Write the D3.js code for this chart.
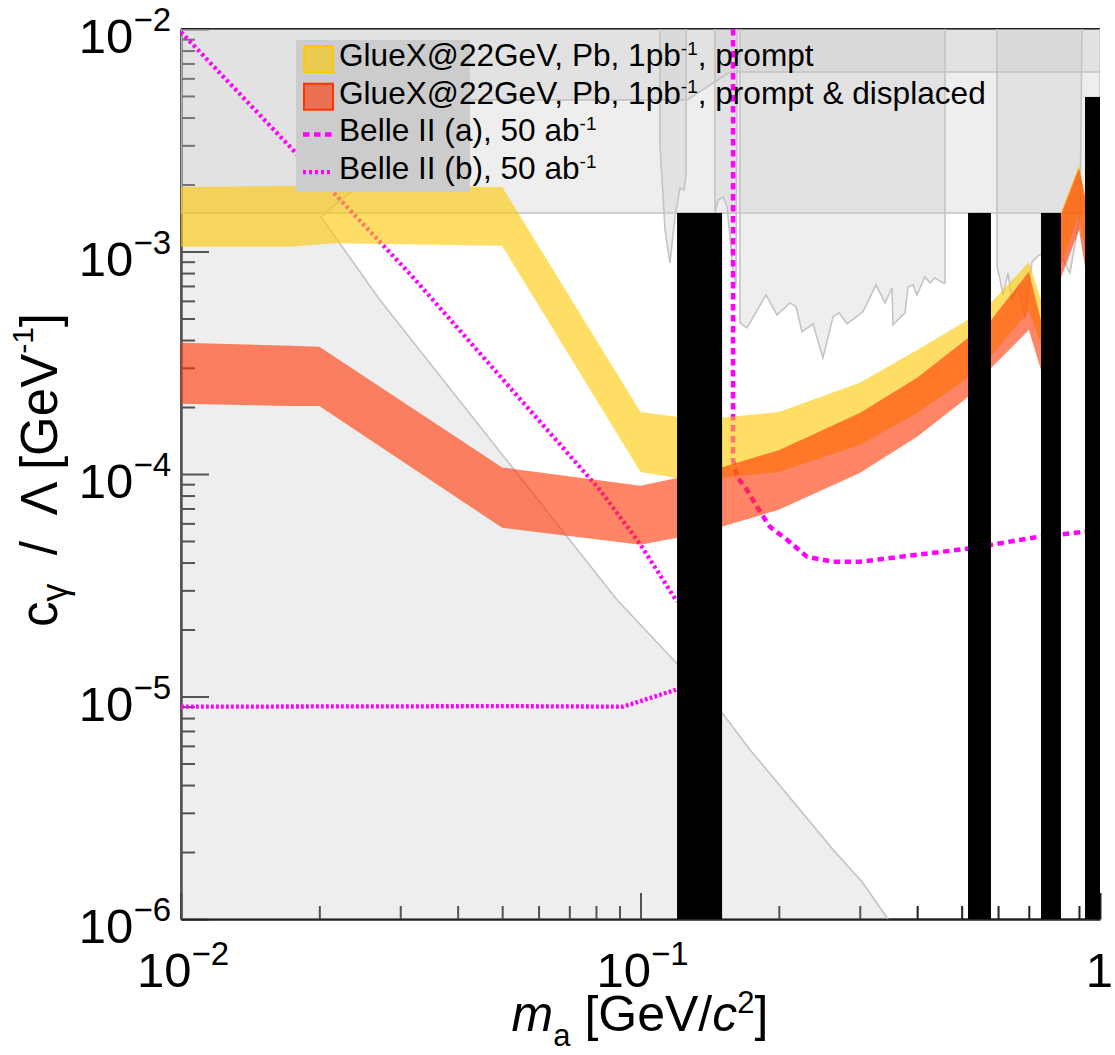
<!DOCTYPE html>
<html>
<head>
<meta charset="utf-8">
<script src="https://cdn.jsdelivr.net/npm/d3@7"></script>
<style>
  body { margin: 0; background: #fff; }
  svg { display: block; }
  text { font-family: "Liberation Sans", Arial, Helvetica, sans-serif; white-space: pre; fill: #000; }
</style>
</head>
<body>
<svg id="chart" width="1115" height="1055"></svg>
<script>
// ---------------- data ----------------
// GlueX@22GeV, Pb, 1 pb^-1 : prompt decays (band = [lo, hi] in c_gamma/Lambda, GeV^-1)
const promptMass = [0.01, 0.0173, 0.0215, 0.05, 0.1, 0.12, 0.15, 0.2, 0.3, 0.4, 0.516, 0.58, 0.70, 0.744, 0.822, 0.90, 0.928];
const promptHi   = [1.95e-3, 1.97e-3, 1.97e-3, 1.95e-3, 1.90e-4, 1.81e-4, 1.79e-4, 1.90e-4, 2.57e-4, 3.61e-4, 4.93e-4, 5.9e-4, 8.98e-4, 6.1e-4, 1.51e-3, 2.45e-3, 1.8e-3];
const promptLo   = [1.05e-3, 1.05e-3, 1.09e-3, 1.06e-3, 1.02e-4, 9.6e-5, 9.6e-5, 1.02e-4, 1.35e-4, 1.88e-4, 2.71e-4, 3.4e-4, 5.4e-4, 3.8e-4, 8.7e-4, 1.46e-3, 1.0e-3];

// GlueX@22GeV, Pb, 1 pb^-1 : prompt & displaced decays
const displacedMass = [0.01, 0.0173, 0.02, 0.05, 0.1, 0.12, 0.15, 0.2, 0.3, 0.4, 0.516, 0.58, 0.70, 0.744, 0.822, 0.90, 0.928];
const displacedHi   = [3.89e-4, 3.77e-4, 3.73e-4, 1.07e-4, 8.85e-5, 9.6e-5, 1.07e-4, 1.28e-4, 1.88e-4, 2.71e-4, 4.09e-4, 4.93e-4, 8.1e-4, 4.9e-4, 1.46e-3, 2.375e-3, 1.76e-3];
const displacedLo   = [2.07e-4, 2.02e-4, 2.02e-4, 5.73e-5, 4.81e-5, 5.17e-5, 5.79e-5, 6.91e-5, 1.01e-4, 1.47e-4, 2.22e-4, 3.0e-4, 4.44e-4, 2.94e-4, 7.61e-4, 1.25e-3, 8.53e-4];

// Belle II projections, 50 ab^-1
const belleAMass = [0.159, 0.159, 0.1622, 0.1705, 0.1793, 0.1913, 0.2084, 0.2303, 0.2624, 0.30, 0.40, 0.5137, 0.7148, 0.9277, 1.0];
const belleACoup = [1e-2, 1.158e-4, 9.71e-5, 8.49e-5, 7.12e-5, 5.79e-5, 5.06e-5, 4.25e-5, 4.03e-5, 4.03e-5, 4.34e-5, 4.61e-5, 5.17e-5, 5.50e-5, 5.61e-5];
const belleBUpperMass = [0.01, 0.01779, 0.02142, 0.03165, 0.0816, 0.1, 0.1201];
const belleBUpperCoup = [9.69e-3, 2.77e-3, 1.85e-3, 7.85e-4, 8.49e-5, 4.81e-5, 2.67e-5];
const belleBLowerMass = [0.01, 0.052, 0.0916, 0.1195];
const belleBLowerCoup = [9.0e-6, 9.05e-6, 9.0e-6, 1.073e-5];

// Existing exclusions: open edges [mass, coupling]; fills close along the frame
const topBandEdge = [[0.01, 1e-2], [0.01, 1.49e-3], [1, 1.49e-3], [1, 1e-2]];
const beamDumpEdge = [[1, 6.41e-3], [0.1566, 6.41e-3], [0.1263, 4.80e-3], [0.0407, 4.80e-3], [0.02017, 1.43e-3],
  [0.0271, 6.06e-4], [0.0889, 2.72e-5], [0.1207, 1.39e-5], [0.1505, 8.46e-6], [0.1731, 5.77e-6],
  [0.2624, 2.05e-6], [0.3034, 1.47e-6], [0.3456, 1e-6]];
const beamDumpClose = [[0.01, 1e-6], [0.01, 1e-2], [1, 1e-2]];
const resonanceA = [[0.1102, 1e-2], [0.1102, 3.08e-3], [0.1114, 2.10e-3], [0.1131, 1.25e-3], [0.1159, 8.89e-4],
  [0.1189, 1.43e-3], [0.1219, 1.93e-3], [0.1244, 1.89e-3], [0.1256, 2.21e-3], [0.1256, 1e-2]];
const resonanceB = [[0.1452, 1e-2], [0.1452, 1.49e-3], [0.1475, 1.70e-3], [0.1512, 1.76e-3], [0.1543, 1.59e-3],
  [0.1566, 1.16e-3], [0.1590, 8.01e-4], [0.1614, 7.08e-4], [0.1622, 1e-2]];
const searchC = [[0.1646, 1e-2], [0.1646, 4.78e-4], [0.1705, 4.54e-4], [0.1875, 6.38e-4], [0.1982, 5.19e-4],
  [0.2115, 5.87e-4], [0.2181, 5.64e-4], [0.2246, 4.35e-4], [0.2373, 4.73e-4], [0.2495, 3.33e-4],
  [0.2624, 5.08e-4], [0.2704, 5.30e-4], [0.2815, 4.73e-4], [0.3049, 5.36e-4], [0.3255, 7.08e-4],
  [0.3405, 5.87e-4], [0.3526, 6.86e-4], [0.3544, 4.68e-4], [0.3763, 5.30e-4], [0.3821, 6.93e-4],
  [0.3917, 7.08e-4], [0.3995, 6.38e-4], [0.4159, 7.69e-4], [0.4266, 7.23e-4], [0.4374, 7.61e-4],
  [0.4553, 7.23e-4], [0.4599, 7.23e-4], [0.4599, 1e-2]];
const searchD = [[0.5969, 1e-2], [0.5969, 8.53e-4], [0.6060, 7.46e-4], [0.6152, 6.38e-4], [0.6308, 8.01e-4],
  [0.6436, 6.06e-4], [0.6631, 6.93e-4], [0.6869, 5.03e-4], [0.7113, 8.98e-4], [0.7330, 9.55e-4],
  [0.7784, 1.017e-3], [0.8266, 9.36e-4], [0.8603, 8.01e-4], [0.8911, 1.21e-3], [0.9048, 1.49e-3], [0.9137, 1e-2]];

// Meson vetoes (pi0, eta, omega, eta')
const vetoLo  = [0.1201, 0.5162, 0.744, 0.9277];
const vetoHi  = [0.1505, 0.579, 0.8223, 1.0];
const vetoTop = [1.49e-3, 1.49e-3, 1.49e-3, 4.95e-3];

// axis ticks and labels
const xMajorTicks = [0.01, 0.1, 1];
const xTickBase = ["10", "10", "1"];
const xTickExp  = ["\u22122", "\u22121", ""];
const yMajorTicks = [1e-6, 1e-5, 1e-4, 1e-3, 1e-2];
const yTickExp = ["\u22126", "\u22125", "\u22124", "\u22123", "\u22122"];

// ---------------- layout ----------------
const W = 1115, H = 1055;
const plot = { left: 181, right: 1100, top: 29, bottom: 919 };
const x = d3.scaleLog().domain([0.01, 1]).range([plot.left, plot.right]);
const y = d3.scaleLog().domain([1e-6, 1e-2]).range([plot.bottom, plot.top]);

const minorOf = (ticks) => ticks.slice(0, -1).flatMap(t => d3.range(2, 10).map(k => +(k * t).toPrecision(3)));
const xMinorTicks = minorOf(xMajorTicks);
const yMinorTicks = minorOf(yMajorTicks);

const svg = d3.select("#chart");
svg.append("rect").attr("width", W).attr("height", H).attr("fill", "#fff");

const defs = svg.append("defs");
defs.append("clipPath").attr("id", "plotClip").append("rect")
  .attr("x", plot.left).attr("y", plot.top)
  .attr("width", plot.right - plot.left).attr("height", plot.bottom - plot.top);

// ---------------- axes ----------------
const axisColor = "#222";
function styleAxis(g) {
  g.selectAll("path, line").attr("stroke", axisColor).attr("stroke-width", 2);
  g.selectAll("text").remove();
}
svg.append("g").attr("transform", `translate(0,${plot.bottom})`)
  .call(d3.axisBottom(x).tickValues(xMinorTicks).tickSizeInner(-13).tickSizeOuter(0).tickFormat(""))
  .call(styleAxis);
svg.append("g").attr("transform", `translate(0,${plot.bottom})`)
  .call(d3.axisBottom(x).tickValues(xMajorTicks).tickSizeInner(-26).tickSizeOuter(0).tickFormat(""))
  .call(styleAxis);
svg.append("g").attr("transform", `translate(${plot.left},0)`)
  .call(d3.axisLeft(y).tickValues(yMinorTicks).tickSizeInner(-14).tickSizeOuter(0).tickFormat(""))
  .call(styleAxis);
svg.append("g").attr("transform", `translate(${plot.left},0)`)
  .call(d3.axisLeft(y).tickValues(yMajorTicks).tickSizeInner(-28).tickSizeOuter(0).tickFormat(""))
  .call(styleAxis);
svg.append("line").attr("x1", plot.left).attr("x2", plot.right)
  .attr("y1", plot.top).attr("y2", plot.top)
  .attr("stroke", axisColor).attr("stroke-width", 2);

const data = svg.append("g").attr("clip-path", "url(#plotClip)");
const lineXY = d3.line().x(d => x(d[0])).y(d => y(d[1]));
const zip = (ms, cs) => ms.map((m, i) => [m, cs[i]]);

// ---------------- excluded regions ----------------
const regionFill = "rgb(200,200,200)";
const regionEdgeColor = "#c4c4c4";
const regions = [
  { edge: topBandEdge, close: [] },
  { edge: beamDumpEdge, close: beamDumpClose },
  { edge: resonanceA, close: [] },
  { edge: resonanceB, close: [] },
  { edge: searchC, close: [] },
  { edge: searchD, close: [] }
];
regions.forEach(r => {
  data.append("path").attr("d", lineXY(r.edge.concat(r.close)) + "Z")
    .attr("fill", regionFill).attr("fill-opacity", 0.3).attr("stroke", "none");
});
regions.forEach(r => {
  data.append("path").attr("d", lineXY(r.edge))
    .attr("fill", "none").attr("stroke", regionEdgeColor).attr("stroke-width", 1.6);
});

// ---------------- Belle II curves ----------------
const magenta = "#ff00ff";
data.append("path").attr("d", lineXY(zip(belleAMass, belleACoup)))
  .attr("fill", "none").attr("stroke", magenta).attr("stroke-width", 4.5).attr("stroke-dasharray", "6.5,4.5");
data.append("path").attr("d", lineXY(zip(belleBUpperMass, belleBUpperCoup)))
  .attr("fill", "none").attr("stroke", magenta).attr("stroke-width", 4.3).attr("stroke-dasharray", "3,3");
data.append("path").attr("d", lineXY(zip(belleBLowerMass, belleBLowerCoup)))
  .attr("fill", "none").attr("stroke", magenta).attr("stroke-width", 4.3).attr("stroke-dasharray", "2.8,2.2");

// ---------------- GlueX bands ----------------
const band = d3.area().x(d => x(d.m)).y0(d => y(d.lo)).y1(d => y(d.hi));
const promptColor = "rgb(255,200,0)";
const displacedColor = "rgb(255,52,0)";
data.append("path")
  .attr("d", band(promptMass.map((m, i) => ({ m, lo: promptLo[i], hi: promptHi[i] }))))
  .attr("fill", promptColor).attr("fill-opacity", 0.6);
data.append("path")
  .attr("d", band(displacedMass.map((m, i) => ({ m, lo: displacedLo[i], hi: displacedHi[i] }))))
  .attr("fill", displacedColor).attr("fill-opacity", 0.6);

// ---------------- meson vetoes ----------------
data.selectAll("rect.veto").data(vetoLo).join("rect").attr("class", "veto")
  .attr("x", (d) => x(d))
  .attr("width", (d, i) => x(vetoHi[i]) - x(d))
  .attr("y", (d, i) => y(vetoTop[i]))
  .attr("height", (d, i) => y(1e-6) - y(vetoTop[i]))
  .attr("fill", "#000");

// ---------------- legend ----------------
const legend = svg.append("g");
legend.append("rect").attr("x", 296).attr("y", 40).attr("width", 174).attr("height", 152).attr("fill", "#cccccc");
const legendRows = [
  { kind: "fill", color: promptColor, edge: "#ffc800", pre: "GlueX@22GeV, Pb, 1pb", sup: "-1", post: ", prompt" },
  { kind: "fill", color: displacedColor, edge: "#ff3300", pre: "GlueX@22GeV, Pb, 1pb", sup: "-1", post: ", prompt & displaced" },
  { kind: "line", dash: "6.5,4.5", width: 4.5, pre: "Belle II (a), 50 ab", sup: "-1", post: "" },
  { kind: "line", dash: "3,3", width: 4.3, pre: "Belle II (b), 50 ab", sup: "-1", post: "" }
];
legendRows.forEach((r, i) => {
  const base = 66 + i * 37.7;
  if (r.kind === "fill") {
    legend.append("rect").attr("x", 304).attr("y", base - 20).attr("width", 29).attr("height", 26)
      .attr("fill", r.color).attr("fill-opacity", 0.6).attr("stroke", r.edge).attr("stroke-width", 2);
  } else {
    legend.append("line").attr("x1", 303).attr("x2", 333).attr("y1", base - 7).attr("y2", base - 7)
      .attr("stroke", magenta).attr("stroke-width", r.width).attr("stroke-dasharray", r.dash);
  }
  const t = legend.append("text").attr("x", 339).attr("y", base).attr("font-size", 31.6);
  t.append("tspan").text(r.pre);
  t.append("tspan").attr("dy", -11).attr("font-size", 19).text(r.sup);
  if (r.post) t.append("tspan").attr("dy", 11).text(r.post);
});

// ---------------- tick labels ----------------
xMajorTicks.forEach((v, i) => {
  const last = i === xMajorTicks.length - 1;
  const t = svg.append("text").attr("x", last ? x(v) + 13 : x(v) + 2).attr("y", 987)
    .attr("text-anchor", last ? "end" : "middle").attr("font-size", 49);
  t.append("tspan").text(xTickBase[i]);
  if (xTickExp[i]) t.append("tspan").attr("dy", -22).attr("font-size", 33).text(xTickExp[i]);
});
yMajorTicks.forEach((v, i) => {
  const t = svg.append("text").attr("x", 171).attr("y", y(v) + 24).attr("text-anchor", "end").attr("font-size", 49);
  t.append("tspan").text("10");
  t.append("tspan").attr("dy", -22).attr("font-size", 33).text(yTickExp[i]);
});

// ---------------- axis titles ----------------
const xt = svg.append("text").attr("x", 640).attr("y", 1031).attr("text-anchor", "middle").attr("font-size", 50);
xt.append("tspan").attr("font-style", "italic").text("m");
xt.append("tspan").attr("dy", 15).attr("font-size", 31).text("a");
xt.append("tspan").attr("dy", -15).text(" [GeV/");
xt.append("tspan").attr("font-style", "italic").text("c");
xt.append("tspan").attr("dy", -18).attr("font-size", 31).text("2");
xt.append("tspan").attr("dy", 18).text("]");

const yt = svg.append("text").attr("transform", "translate(57,470) rotate(-90)")
  .attr("text-anchor", "middle").attr("font-size", 51);
yt.append("tspan").text("c");
yt.append("tspan").attr("dy", 10).attr("font-size", 36).text("\u03b3");
yt.append("tspan").attr("dy", -10).text("  /  \u039b [GeV");
yt.append("tspan").attr("dy", -24).attr("font-size", 30).text("-1");
yt.append("tspan").attr("dy", 24).text("]");
</script>
</body>
</html>
